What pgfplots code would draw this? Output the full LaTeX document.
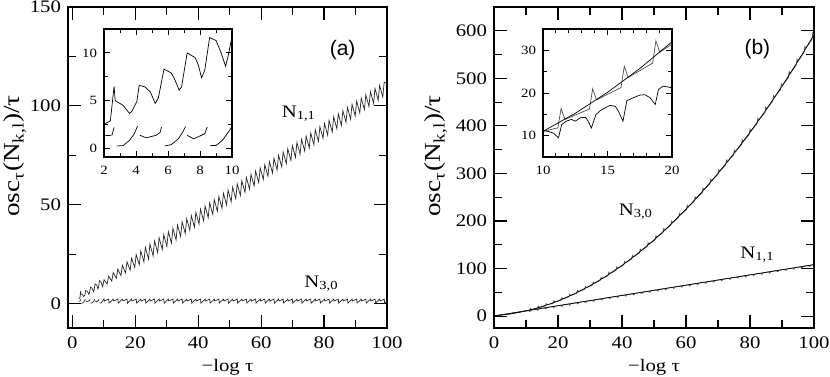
\documentclass[border=0pt]{standalone}
\usepackage{fontspec}
\setmainfont{Liberation Serif}[FakeStretch=1.18]
\newfontfamily\panelfont{Liberation Sans}
\usepackage{pgfplots}
\usepackage{pgfplotstable}
\pgfplotsset{compat=1.18}

% panel (a): N_{1,1} and N_{3,0}
\pgfplotstableread{
x y
2.0 2.5
2.4 2.9
2.63 6.5
2.7 5.0
2.8 4.9
3.2 4.5
3.6 3.65
3.75 3.9
4.05 4.9
4.2 6.6
4.55 6.45
4.9 5.9
5.2 4.7
5.4 5.3
5.75 8.3
6.2 7.9
6.4 7.3
6.7 6.1
6.85 6.45
7.2 10.0
7.7 9.5
7.9 8.7
8.1 7.4
8.3 8.2
8.6 11.6
9.0 11.3
9.3 10.1
9.6 8.6
9.75 9.6
10.05 12.1
11.05 10.0
11.51 13.9
12.51 11.4
12.97 15.7
13.97 12.8
14.43 17.5
15.43 14.2
15.89 19.4
16.89 15.5
17.35 21.2
18.35 16.9
18.81 23.0
19.81 18.3
20.27 24.8
21.27 19.7
21.73 26.7
22.73 21.1
23.19 28.5
24.19 22.6
24.65 30.1
25.65 24.2
26.11 31.7
27.11 25.8
27.57 33.3
28.57 27.4
29.03 34.9
30.03 29.0
30.49 36.5
31.49 30.6
31.95 38.1
32.95 32.2
33.41 39.8
34.41 33.9
34.87 41.4
35.87 35.5
36.33 43.0
37.33 37.1
37.79 44.6
38.79 38.7
39.25 46.2
40.25 40.3
40.71 47.8
41.71 41.9
42.17 49.4
43.17 43.5
43.63 51.0
44.63 45.1
45.09 52.6
46.09 46.7
46.55 54.2
47.55 48.3
48.01 55.8
49.01 49.9
49.47 57.4
50.47 51.5
50.93 59.0
51.93 53.1
52.39 60.6
53.39 54.7
53.85 62.2
54.85 56.3
55.31 63.8
56.31 57.9
56.77 65.4
57.77 59.5
58.23 67.1
59.23 61.2
59.69 68.7
60.69 62.8
61.15 70.3
62.15 64.4
62.61 71.9
63.61 66.0
64.07 73.5
65.07 67.6
65.53 75.1
66.53 69.2
66.99 76.7
67.99 70.8
68.45 78.3
69.45 72.4
69.91 79.9
70.91 74.0
71.37 81.5
72.37 75.6
72.83 83.1
73.83 77.2
74.29 84.7
75.29 78.8
75.75 86.3
76.75 80.4
77.21 87.9
78.21 82.0
78.67 89.5
79.67 83.6
80.13 91.1
81.13 85.2
81.59 92.7
82.59 86.8
83.05 94.4
84.05 88.5
84.51 96.0
85.51 90.1
85.97 97.6
86.97 91.7
87.43 99.2
88.43 93.3
88.89 100.8
89.89 94.9
90.35 102.4
91.35 96.5
91.81 104.0
92.81 98.1
93.27 105.6
94.27 99.7
94.73 107.2
95.73 101.3
96.19 108.8
97.19 102.9
97.65 110.4
98.65 104.5
99.11 112.0
100.0 111.2
}\aOneOne

\pgfplotstableread{
x y
2.0 1.37
2.3 1.35
2.5 1.4
2.63 2.2
2.65 nan
2.8 0.25
3.2 0.3
3.6 0.85
3.9 1.55
4.1 2.35
4.15 nan
4.25 1.37
4.65 1.1
4.85 1.2
5.25 1.37
5.5 1.65
5.6 2.25
5.65 nan
5.8 0.25
6.2 0.4
6.65 1.0
6.95 1.8
7.1 2.3
7.15 nan
7.2 1.37
7.6 1.0
8.0 1.3
8.3 1.55
8.45 2.25
8.5 nan
8.65 0.3
9.0 0.3
9.4 0.85
9.75 1.65
10.05 2.4
10.2 1.35
11.51 2.3
11.66 0.3
12.97 2.3
13.12 1.35
14.43 2.3
14.58 0.3
15.89 2.3
16.04 1.35
17.35 2.3
17.50 0.3
18.81 2.3
18.96 1.35
20.27 2.3
20.42 0.3
21.73 2.3
21.88 1.35
23.19 2.3
23.34 0.3
24.65 2.3
24.80 1.35
26.11 2.3
26.26 0.3
27.57 2.3
27.72 1.35
29.03 2.3
29.18 0.3
30.49 2.3
30.64 1.35
31.95 2.3
32.10 0.3
33.41 2.3
33.56 1.35
34.87 2.3
35.02 0.3
36.33 2.3
36.48 1.35
37.79 2.3
37.94 0.3
39.25 2.3
39.40 1.35
40.71 2.3
40.86 0.3
42.17 2.3
42.32 1.35
43.63 2.3
43.78 0.3
45.09 2.3
45.24 1.35
46.55 2.3
46.70 0.3
48.01 2.3
48.16 1.35
49.47 2.3
49.62 0.3
50.93 2.3
51.08 1.35
52.39 2.3
52.54 0.3
53.85 2.3
54.00 1.35
55.31 2.3
55.46 0.3
56.77 2.3
56.92 1.35
58.23 2.3
58.38 0.3
59.69 2.3
59.84 1.35
61.15 2.3
61.30 0.3
62.61 2.3
62.76 1.35
64.07 2.3
64.22 0.3
65.53 2.3
65.68 1.35
66.99 2.3
67.14 0.3
68.45 2.3
68.60 1.35
69.91 2.3
70.06 0.3
71.37 2.3
71.52 1.35
72.83 2.3
72.98 0.3
74.29 2.3
74.44 1.35
75.75 2.3
75.90 0.3
77.21 2.3
77.36 1.35
78.67 2.3
78.82 0.3
80.13 2.3
80.28 1.35
81.59 2.3
81.74 0.3
83.05 2.3
83.20 1.35
84.51 2.3
84.66 0.3
85.97 2.3
86.12 1.35
87.43 2.3
87.58 0.3
88.89 2.3
89.04 1.35
90.35 2.3
90.50 0.3
91.81 2.3
91.96 1.35
93.27 2.3
93.42 0.3
94.73 2.3
94.88 1.35
96.19 2.3
96.34 0.3
97.65 2.3
97.80 1.35
99.11 2.3
99.26 0.3
100.0 1.0
}\aThreeZero

% panel (b)
\pgfplotstableread{
x y
1.0 1.4
2.0 2.05
4.0 3.64
6.0 5.66
8.0 8.12
10.0 11.0
11.15 11.84
11.40 16.36
11.70 13.80
13.60 16.25
13.85 20.99
14.15 18.39
16.05 21.29
16.30 26.28
16.60 23.63
18.50 27.01
18.75 32.23
19.05 29.54
20.95 33.37
21.20 38.81
21.50 36.08
23.40 40.38
23.65 46.05
23.95 43.28
25.85 48.05
26.10 53.96
26.40 51.14
28.30 56.37
28.55 62.50
28.85 59.64
30.75 65.35
31.00 71.71
31.30 68.81
33.20 74.97
33.45 81.56
33.75 78.62
35.65 85.26
35.90 92.08
36.20 89.09
38.10 96.19
38.35 103.24
38.65 100.21
40.55 107.77
40.80 115.05
41.10 111.98
43.00 120.02
43.25 127.52
43.55 124.41
45.45 132.89
45.70 140.64
46.00 137.48
47.90 146.44
48.15 154.42
48.45 151.22
50.35 160.64
50.60 168.84
50.90 165.60
52.80 175.49
53.05 183.92
53.35 180.64
55.25 191.00
55.50 199.67
55.80 196.34
57.70 207.16
57.95 216.05
58.25 212.68
60.15 223.97
60.40 233.09
60.70 229.68
62.60 241.43
62.85 250.78
63.15 247.33
65.05 259.56
65.30 269.14
65.60 265.64
67.50 278.32
67.75 288.13
68.05 284.59
69.95 297.74
70.20 307.78
70.50 304.20
72.40 317.82
72.65 328.08
72.95 324.46
74.85 338.54
75.10 349.05
75.40 345.38
77.30 359.92
77.55 370.66
77.85 366.95
79.75 381.96
80.00 392.92
80.30 389.17
82.20 404.64
82.45 415.83
82.75 412.04
84.65 427.99
84.90 439.42
85.20 435.58
87.10 451.98
87.35 463.63
87.65 459.75
89.55 476.63
89.80 488.51
90.10 484.59
92.00 501.93
92.25 514.04
92.55 510.08
94.45 527.88
94.70 540.22
95.00 536.21
96.90 554.49
97.15 567.06
97.45 563.01
99.35 581.75
99.60 594.55
99.90 590.46
100.0 591.6
}\bThreeZero

\pgfplotstableread{
x y
0 0.9
5 4.60
10 11.01
12.5 15.24
15 20.15
17.5 25.73
20 32.00
25 46.58
30 63.87
35 83.89
40 106.62
45 132.08
50 160.25
55 191.15
60 224.76
65 261.10
70 300.15
75 341.93
80 386.42
85 433.64
90 483.57
95 536.23
100 591.6
}\bThreeZeroFit

\pgfplotstableread{
x y
1.0 1.0
10.8 11.96
11.2 9.40
11.5 12.72
13.3 14.66
13.7 12.10
14.0 15.42
15.8 17.36
16.2 14.80
16.5 18.12
18.3 20.06
18.7 17.50
19.0 20.82
20.8 22.76
21.2 20.20
21.5 23.52
23.3 25.46
23.7 22.90
24.0 26.22
25.8 28.16
26.2 25.60
26.5 28.92
28.3 30.86
28.7 28.30
29.0 31.62
30.8 33.56
31.2 31.00
31.5 34.32
33.3 36.26
33.7 33.70
34.0 37.02
35.8 38.96
36.2 36.40
36.5 39.72
38.3 41.66
38.7 39.10
39.0 42.42
40.8 44.36
41.2 41.80
41.5 45.12
43.3 47.06
43.7 44.50
44.0 47.82
45.8 49.76
46.2 47.20
46.5 50.52
48.3 52.46
48.7 49.90
49.0 53.22
50.8 55.16
51.2 52.60
51.5 55.92
53.3 57.86
53.7 55.30
54.0 58.62
55.8 60.56
56.2 58.00
56.5 61.32
58.3 63.26
58.7 60.70
59.0 64.02
60.8 65.96
61.2 63.40
61.5 66.72
63.3 68.66
63.7 66.10
64.0 69.42
65.8 71.36
66.2 68.80
66.5 72.12
68.3 74.06
68.7 71.50
69.0 74.82
70.8 76.76
71.2 74.20
71.5 77.52
73.3 79.46
73.7 76.90
74.0 80.22
75.8 82.16
76.2 79.60
76.5 82.92
78.3 84.86
78.7 82.30
79.0 85.62
80.8 87.56
81.2 85.00
81.5 88.32
83.3 90.26
83.7 87.70
84.0 91.02
85.8 92.96
86.2 90.40
86.5 93.72
88.3 95.66
88.7 93.10
89.0 96.42
90.8 98.36
91.2 95.80
91.5 99.12
93.3 101.06
93.7 98.50
94.0 101.82
95.8 103.76
96.2 101.20
96.5 104.52
98.3 106.46
98.7 103.90
99.0 107.22
100.0 108.3
}\bOneOne

\pgfplotstableread{
x y
10.0 11.2
10.4 11.0
10.8 10.6
11.2 9.5
11.45 12.6
11.8 13.4
12.2 13.8
12.5 13.4
12.9 14.2
13.3 14.3
13.5 13.4
13.75 11.8
14.1 14.9
14.45 15.9
14.8 16.5
15.2 17.1
15.6 16.9
15.85 15.7
16.2 13.4
16.5 18.2
17.0 18.9
17.5 19.5
17.9 19.6
18.3 18.9
18.7 17.3
18.95 20.8
19.3 21.6
19.7 21.4
20.0 21.2
}\bOneOneInset

\pgfplotsset{
  panel/.style={
    scale only axis, anchor=south west,
    axis line style={line width=0.75pt},
    tick style={line width=0.6pt, black},
    tick align=inside, xtick pos=both, ytick pos=both,
    xticklabel pos=lower, yticklabel pos=left,
    major tick length=6.5pt, minor tick length=4pt,
    /pgf/number format/assume math mode=true,
    tick label style={font=\fontsize{8.8}{9}\selectfont},
    xticklabel style={yshift=-1pt},
    label style={font=\fontsize{8.8}{9}\selectfont},
    unbounded coords=jump,
    every axis plot/.append style={line width=0.35pt, mark=none},
  },
  inset/.style={
    panel,
    axis background/.style={fill=white},
    major tick length=3pt, minor tick length=1.8pt,
    tick style={line width=0.5pt, black},
    axis line style={line width=0.6pt},
    tick label style={font=\fontsize{6.3}{7}\selectfont},
    xticklabel style={yshift=0pt},
  },
}

\begin{document}
\begin{tikzpicture}
\useasboundingbox (0,0) rectangle (415pt,188pt);

% ---- (a)
\begin{axis}[panel, at={(34pt,24pt)}, width=159.5pt, height=160.5pt,
  xmin=-1.4, xmax=100, ymin=-12.3, ymax=150,
  xtick={0,20,...,100}, minor x tick num=1,
  ytick={0,50,100,150}, minor y tick num=1,
  xlabel={−log τ}, ylabel={osc\textsubscript{τ}(N\textsubscript{k,l})/τ},
  xlabel style={at={(rel axis cs:0.5,0)}, anchor=base, yshift=-21.5pt},
  ylabel style={at={([xshift=-26.5pt]rel axis cs:0,0.536)}, anchor=center,
    font=\fontsize{11.5}{12}\selectfont},
]
\addplot[black!85] table {\aOneOne};
\addplot[black!85] table {\aThreeZero};
\node[anchor=base west, font=\fontsize{8.8}{9}\selectfont] at (axis cs:64.3,94.2) {N\textsubscript{1,1}};
\node[anchor=base west, font=\fontsize{8.8}{9}\selectfont] at (axis cs:71.5,8.0) {N\textsubscript{3,0}};
\node[font=\panelfont\fontsize{10.5}{11}\selectfont] at (axis cs:85.9,128.3) {(a)};
\end{axis}

\begin{axis}[inset, at={(52pt,109.5pt)}, width=64pt, height=64pt,
  xmin=2, xmax=10, ymin=-0.9, ymax=12.5,
  xtick={2,4,...,10}, minor x tick num=1,
  ytick={0,5,10}, minor y tick num=1,
]
\addplot[black] table {\aOneOne};
\addplot[black] table {\aThreeZero};
\end{axis}

% ---- (b)
\begin{axis}[panel, at={(247pt,24pt)}, width=160pt, height=160.5pt,
  xmin=0, xmax=100, ymin=-25, ymax=650,
  xtick={0,20,...,100}, minor x tick num=1,
  ytick={0,100,...,600}, minor y tick num=1,
  xlabel={−log τ}, ylabel={osc\textsubscript{τ}(N\textsubscript{k,l})/τ},
  xlabel style={at={(rel axis cs:0.5,0)}, anchor=base, yshift=-21.5pt},
  ylabel style={at={([xshift=-29pt]rel axis cs:0,0.536)}, anchor=center,
    font=\fontsize{11.5}{12}\selectfont},
]
\addplot[black!70] table {\bOneOne};
\addplot[black] coordinates {(0.5,0.8) (100,108.3)};
\addplot[black!70] table {\bThreeZero};
\addplot[black] table {\bThreeZeroFit};
\node[anchor=base west, font=\fontsize{8.8}{9}\selectfont] at (axis cs:36.8,212) {N\textsubscript{3,0}};
\node[anchor=base west, font=\fontsize{8.8}{9}\selectfont] at (axis cs:74.8,121) {N\textsubscript{1,1}};
\node[font=\panelfont\fontsize{10.5}{11}\selectfont] at (axis cs:82.3,561) {(b)};
\end{axis}

\begin{axis}[inset, at={(271.5pt,109.5pt)}, width=64.5pt, height=64pt,
  xmin=10, xmax=20, ymin=5, ymax=35,
  xtick={10,15,20}, minor x tick num=4,
  ytick={10,20,30}, minor y tick num=1,
]
\addplot[black!70] table {\bThreeZero};
\addplot[black] table {\bThreeZeroFit};
\addplot[black] table {\bOneOneInset};
\end{axis}
\end{tikzpicture}
\end{document}
